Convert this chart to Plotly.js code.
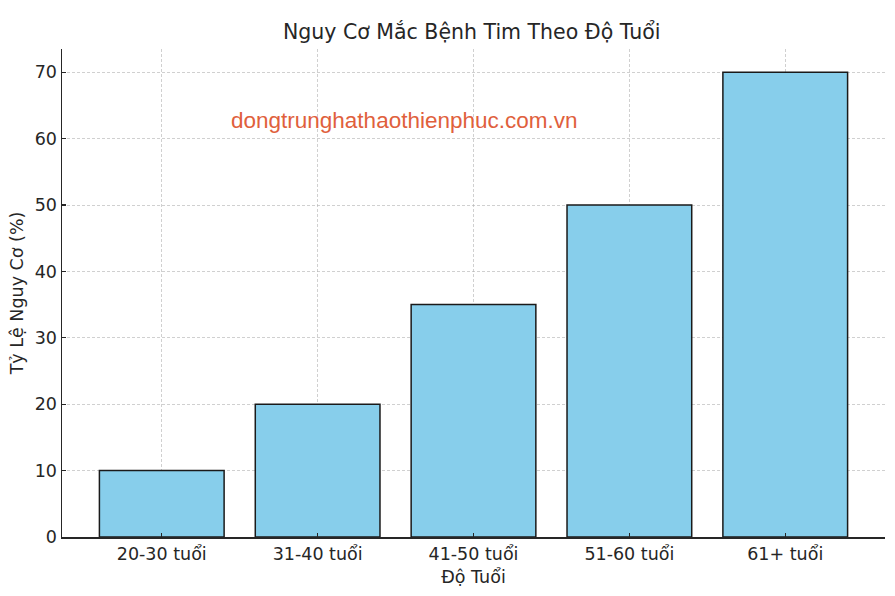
<!DOCTYPE html>
<html>
<head>
<meta charset="utf-8">
<script src="https://cdn.plot.ly/plotly-3.0.1.min.js"></script>
<style>html,body{margin:0;padding:0;background:#fff;}#chart{width:895px;height:596px;}</style>
</head>
<body>
<div id="chart"></div>
<script>
const categories = ["20-30 tuổi", "31-40 tuổi", "41-50 tuổi", "51-60 tuổi", "61+ tuổi"];
const riskValues = [10, 20, 35, 50, 70];
const yTicks = [0, 10, 20, 30, 40, 50, 60, 70];

const font = "DejaVu Sans, sans-serif";
const txt = "#262626";
const grid = "rgba(176,176,176,0.6)";
const trace = {
  type: "bar",
  x: categories,
  y: riskValues,
  width: 0.8,
  marker: { color: "#87CEEB", line: { color: "#1a1a1a", width: 1.5 } },
  hoverinfo: "x+y"
};
const layout = {
  width: 895, height: 596,
  margin: { l: 62, r: 10, t: 49, b: 59 },
  paper_bgcolor: "#fff", plot_bgcolor: "#fff",
  font: { family: font, size: 17.5, color: txt },
  title: { text: "Nguy Cơ Mắc Bệnh Tim Theo Độ Tuổi", font: { family: font, size: 20.5, color: txt }, x: 0.527, xanchor: "center", y: 0.946, yanchor: "middle" },
  xaxis: {
    type: "category",
    range: [-0.64, 4.64],
    showline: true, linecolor: txt, linewidth: 1.5,
    ticks: "inside", ticklen: 4, tickwidth: 1.2, tickcolor: txt,
    showgrid: true, gridcolor: grid, griddash: "3px,2px", gridwidth: 1,
    tickfont: { family: font, size: 17.5, color: txt },
    title: { text: "Độ Tuổi", font: { family: font, size: 17.5, color: txt }, standoff: 8 },
    zeroline: false, fixedrange: true, layer: "above traces"
  },
  yaxis: {
    range: [0, 73.5],
    tickvals: yTicks,
    showline: true, linecolor: txt, linewidth: 1.5,
    ticks: "inside", ticklen: 4, tickwidth: 1.2, tickcolor: txt,
    showgrid: true, gridcolor: grid, griddash: "3px,2px", gridwidth: 1,
    tickfont: { family: font, size: 17.5, color: txt },
    title: { text: "Tỷ Lệ Nguy Cơ (%)", font: { family: font, size: 17.5, color: txt }, standoff: 6 },
    zeroline: false, fixedrange: true, layer: "above traces"
  },
  annotations: [{
    text: "dongtrunghathaothienphuc.com.vn",
    xref: "paper", yref: "paper", x: 0.416, y: 0.853,
    xanchor: "center", yanchor: "middle", showarrow: false,
    font: { family: "Liberation Sans, Arial, sans-serif", size: 22.5, color: "#E0603C" }
  }],
  showlegend: false,
  bargap: 0.2
};
Plotly.newPlot("chart", [trace], layout, { displayModeBar: false, staticPlot: true });
</script>
</body>
</html>
